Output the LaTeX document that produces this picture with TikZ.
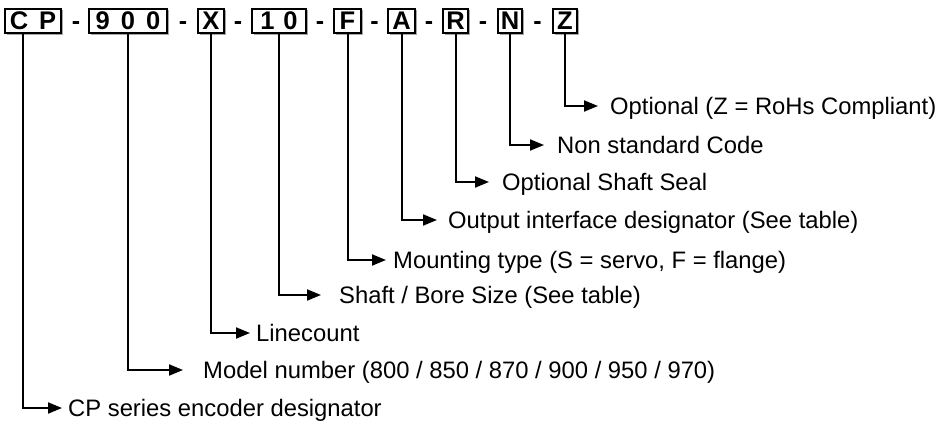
\documentclass[tikz,border=0pt]{standalone}
\usepackage{fontspec}
\setmainfont{Liberation Sans}
\usetikzlibrary{arrows.meta,shadows}
\begin{document}
\begin{tikzpicture}[x=1pt,y=-1pt,
  codebox/.style={draw=black,line width=2.2pt,fill=white,minimum height=24.5pt,inner sep=0pt,
    font=\fontsize{25.5}{28}\selectfont\bfseries,
    drop shadow={shadow xshift=1.6pt,shadow yshift=-1.6pt,fill=black!35,opacity=1}},
  hyph/.style={inner sep=0pt,anchor=base,font=\fontsize{25}{28}\selectfont\bfseries},
  lbl/.style={inner sep=0pt,anchor=base west,font=\fontsize{23.8}{28}\selectfont},
  conn/.style={line width=2pt,-{Triangle[length=14pt,width=11pt]}}]
\useasboundingbox (0,0) rectangle (941,425);
% code boxes
\node[codebox,minimum width=56pt] (cp) at (33,21) {C\hspace{11pt}P};
\node[codebox,minimum width=78pt] (m900) at (128,21) {9\hspace{11pt}0\hspace{11pt}0};
\node[codebox,minimum width=26pt] (x) at (211,21) {X};
\node[codebox,minimum width=54pt] (ten) at (279,21) {1\hspace{9pt}0};
\node[codebox,minimum width=27pt] (f) at (347.5,21) {F};
\node[codebox,minimum width=27pt] (a) at (401.5,21) {A};
\node[codebox,minimum width=25pt] (r) at (455.5,21) {R};
\node[codebox,minimum width=24pt] (n) at (510,21) {N};
\node[codebox,minimum width=24pt] (z) at (565,21) {Z};
% hyphens
\node[hyph] (h1) at (76,30) {-};
\node[hyph] (h2) at (183,30) {-};
\node[hyph] (h3) at (238,30) {-};
\node[hyph] (h4) at (320,30) {-};
\node[hyph] (h5) at (374.5,30) {-};
\node[hyph] (h6) at (429,30) {-};
\node[hyph] (h7) at (483,30) {-};
\node[hyph] (h8) at (537.5,30) {-};
% labels
\node[lbl] (tz) at (610,114.5) {Optional (Z = RoHs Compliant)};
\node[lbl] (tn) at (557,153.5) {Non standard Code};
\node[lbl] (tr) at (502,190.5) {Optional Shaft Seal};
\node[lbl] (ta) at (448,228.5) {Output interface designator (See table)};
\node[lbl] (tf) at (393,268.5) {Mounting type (S = servo, F = flange)};
\node[lbl] (tten) at (339,303.5) {Shaft / Bore Size (See table)};
\node[lbl] (tx) at (256,341.5) {Linecount};
\node[lbl] (tm) at (203,378.5) {Model number (800 / 850 / 870 / 900 / 950 / 970)};
\node[lbl] (tcp) at (68,416.5) {CP series encoder designator};
% arrow tips
\coordinate (ez) at (598,106);
\coordinate (en) at (544,145);
\coordinate (er) at (489,182);
\coordinate (ea) at (437,220);
\coordinate (ef) at (386,260);
\coordinate (eten) at (321,295);
\coordinate (ex) at (250,333);
\coordinate (em) at (183,370);
\coordinate (ecp) at (62,408);
% connectors
\draw[conn] (z.south) |- (ez);
\draw[conn] (n.south) |- (en);
\draw[conn] (r.south) |- (er);
\draw[conn] (a.south) |- (ea);
\draw[conn] (f.south) |- (ef);
\draw[conn] (ten.south) |- (eten);
\draw[conn] (x.south) |- (ex);
\draw[conn] (m900.south) |- (em);
\draw[conn] ([xshift=-10pt]cp.south) |- (ecp);
\end{tikzpicture}
\end{document}
